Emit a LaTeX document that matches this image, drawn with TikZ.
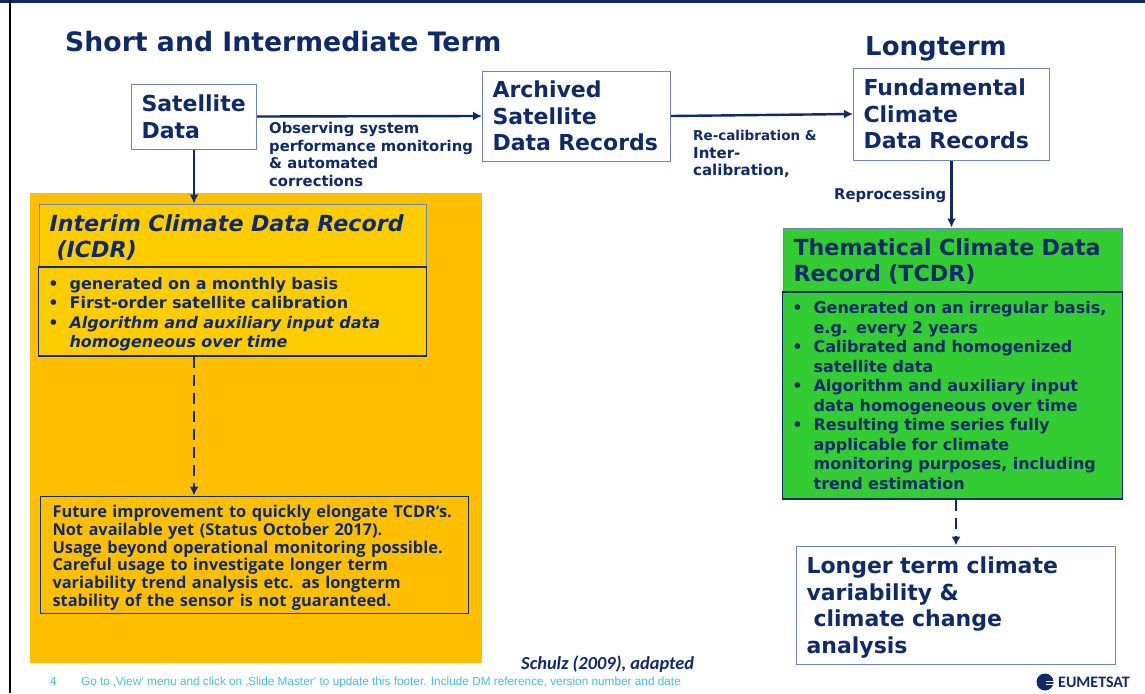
\documentclass[tikz,border=0pt]{standalone}
\usepackage{fontspec}
\setmainfont{DejaVu Sans}
\newfontfamily\narrowfont{Open Sans}
\newfontfamily\carlitofont{Carlito}
\newfontfamily\footfont{Liberation Sans}
\usetikzlibrary{positioning,arrows.meta}
\definecolor{navy}{HTML}{0F2A6B}
\definecolor{frameblue}{HTML}{6C85B6}
\definecolor{orangefill}{HTML}{FFBF00}
\definecolor{yellowfill}{HTML}{FFCC00}
\definecolor{greenfill}{HTML}{33CC33}
\definecolor{footcyan}{HTML}{45BFE6}
\newcommand{\ind}{\leavevmode\hspace*{21pt}}
\newcommand{\bul}{\ind\llap{\textbullet\hspace{11pt}}}
\newcommand{\lift}[1]{\rule{0pt}{#1}}
\hyphenpenalty=10000
\begin{document}
\begin{tikzpicture}[x=1pt,y=-1pt]
	\tikzset{every node/.style={text=navy,font=\bfseries,align=left,inner sep=0pt,anchor=north west}}
	\tikzset{whitebox/.style={draw=frameblue,line width=1pt,fill=white,font=\fontsize{22}{26.6}\selectfont\bfseries,inner xsep=10pt,anchor=west}}
	\tikzset{headbox/.style={draw=frameblue,line width=1pt,font=\fontsize{22.2}{26.6}\selectfont\bfseries,inner xsep=10pt,anchor=west}}
	\tikzset{bodybox/.style={draw=navy,line width=1.2pt,font=\fontsize{16}{19.5}\selectfont\bfseries,inner xsep=10pt,anchor=west}}
	\tikzset{edgelabel/.style={font=\fontsize{14.8}{17.5}\selectfont\bfseries}}
	\tikzset{flow/.style={draw=navy,line width=2.4pt,-{Latex[length=9pt,width=9pt]}}}
	\tikzset{dashflow/.style={flow,dash pattern=on 11pt off 7pt}}
	\useasboundingbox (0,0) rectangle (1145,693);
	\fill[white] (0,0) rectangle (1145,693);
	\fill[navy] (0,0) rectangle (1145,3);
	\fill[black] (9,0) rectangle (11,693);
	\fill[orangefill] (30,193) rectangle (482,663);

	\node[font=\fontsize{26.7}{30}\selectfont\bfseries] (shortterm) at (65,31) {Short and Intermediate Term};
	\node[font=\fontsize{26}{30}\selectfont\bfseries] (longterm) at (865,36) {Longterm};

	\node[whitebox,minimum width=125pt,minimum height=65pt,text width=105pt] (satdata) at (131,116.5) {Satellite\\Data};
	\node[whitebox,minimum width=188pt,minimum height=90pt,text width=168pt] (archived) at (482,116) {Archived\\Satellite\\Data Records};
	\node[whitebox,minimum width=196pt,minimum height=92pt,text width=176pt] (fundamental) at (853,114) {Fundamental\\Climate\\Data Records};

	\node[headbox,fill=yellowfill,minimum width=387pt,minimum height=63pt,text width=367pt] (icdrhead) at (39,235.5) {\lift{21pt}\itshape Interim Climate Data Record\\\itshape\hspace{7pt}(ICDR)};
	\node[bodybox,fill=yellowfill,minimum width=388pt,minimum height=89pt,text width=368pt] (icdrbody) at (38,311.5) {\lift{17pt}\bul generated on a monthly basis\\\bul First-order satellite calibration\\\bul\itshape Algorithm and auxiliary input data\\\ind\itshape homogeneous over time};
	\node[draw=navy,line width=1pt,minimum width=428pt,minimum height=117pt,text width=404pt,inner xsep=12pt,anchor=west,font=\narrowfont\fontsize{16.4}{17.8}\selectfont\bfseries] (future) at (40,554.5) {\lift{19pt}Future improvement to quickly elongate TCDR‘s.\\Not available yet (Status October 2017).\\Usage beyond operational monitoring possible.\\Careful usage to investigate longer term\\variability trend analysis etc. as longterm\\stability of the sensor is not guaranteed.};

	\node[headbox,fill=greenfill,minimum width=339pt,minimum height=64pt,text width=319pt] (tcdrhead) at (783,260) {\lift{20pt}Thematical Climate Data\\Record (TCDR)};
	\node[bodybox,fill=greenfill,minimum width=340pt,minimum height=207pt,text width=320pt] (tcdrbody) at (782,395.5) {\bul Generated on an irregular basis,\\\ind e.g. every 2 years\\\bul Calibrated and homogenized\\\ind satellite data\\\bul Algorithm and auxiliary input\\\ind data homogeneous over time\\\bul Resulting time series fully\\\ind applicable for climate\\\ind monitoring purposes, including\\\ind trend estimation};
	\node[whitebox,minimum width=319pt,minimum height=118pt,text width=299pt] (longer) at (796,605) {\lift{22pt}Longer term climate\\variability \&\\\hspace{7pt}climate change\\analysis};

	\node[edgelabel] (observing) at (269,122.5) {Observing system\\performance monitoring\\\&\ automated\\corrections};
	\node[edgelabel,font=\fontsize{15}{17.5}\selectfont\bfseries] (recalib) at (693,130.5) {{\fontsize{13.5}{17.5}\selectfont Re-calibration \&}\\Inter-\\calibration,};
	\node[edgelabel] (reprocessing) at (834,188) {Reprocessing};

	\draw[flow] (satdata.east) -- (archived.west);
	\draw[flow] (archived.east) -- (fundamental.west);
	\draw[flow] (satdata.south) -- (satdata.south |- icdrhead.north);
	\draw[flow] (fundamental.south) -- (fundamental.south |- tcdrhead.north);
	\draw[dashflow] (satdata.south |- icdrbody.south) -- (satdata.south |- future.north);
	\draw[dashflow] (longer.north |- tcdrbody.south) -- (longer.north);

	\node[font=\carlitofont\fontsize{18.4}{20}\selectfont\bfseries\itshape] (source) at (521,656) {Schulz (2009), adapted};
	\node[text=footcyan,font=\footfont\fontsize{11.8}{13}\mdseries\selectfont] (pagenum) at (50,677) {4};
	\node[text=footcyan,font=\footfont\fontsize{11.8}{13}\mdseries\selectfont] (footer) at (81,677) {Go to ‚View‘ menu and click on ‚Slide Master‘ to update this footer. Include DM reference, version number and date};

	\fill[navy] (1045,682) circle (8.5pt);
	\draw[white,line width=1pt] (1046,681) -- (1054,681) (1046,684) -- (1054,684);
	\node[font=\carlitofont\fontsize{16}{18}\selectfont\bfseries,anchor=west] (eumetsat) at (1058,682) {EUMETSAT};
\end{tikzpicture}
\end{document}
